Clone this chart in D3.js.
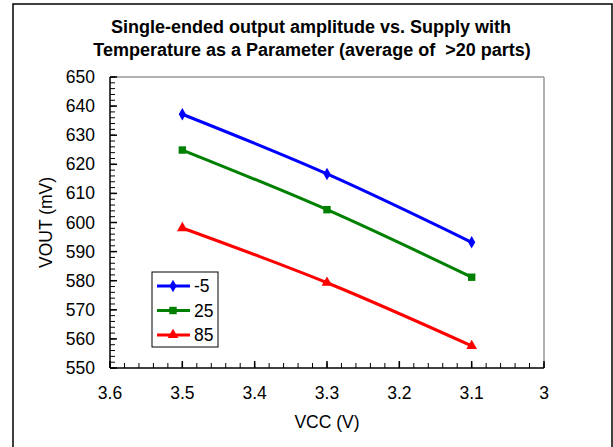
<!DOCTYPE html>
<html>
<head>
<meta charset="utf-8">
<script src="https://cdn.jsdelivr.net/npm/d3@7"></script>
<style>
  body { margin: 0; background: #fff; }
  text { font-family: "Liberation Sans", Arial, sans-serif; fill: #000; white-space: pre; }
</style>
</head>
<body>
<div id="chart"></div>
<script>
// data
const vcc = [3.5, 3.3, 3.1];
const tempNames = ["-5", "25", "85"];
const vMinus5 = [637.2, 616.7, 593.2];
const v25 = [624.9, 604.4, 581.2];
const v85 = [598.1, 579.3, 557.6];
const xTicks = [3.6, 3.5, 3.4, 3.3, 3.2, 3.1, 3];
const yTicks = [550, 560, 570, 580, 590, 600, 610, 620, 630, 640, 650];

const colors = ["#0000ff", "#008000", "#ff0000"];
const symbols = [d3.symbolDiamond, d3.symbolSquare, d3.symbolTriangle];
const symSize = [45, 55, 50];

const series = [vMinus5, v25, v85].map((vals, i) => ({
    name: tempNames[i],
    color: colors[i],
    sym: symbols[i],
    size: symSize[i],
    pts: vals.map((v, j) => ({x: vcc[j], y: v}))
}));

const W = 613, H = 447;
const margin = {top: 77, right: 69, bottom: 79, left: 110};
const width = W - margin.left - margin.right;
const height = H - margin.top - margin.bottom;
const fs = "17.5px";

const svg = d3.select("#chart").append("svg")
    .attr("width", W).attr("height", H);

// outer frame
svg.append("rect")
    .attr("x", 13).attr("y", 4)
    .attr("width", 599).attr("height", 460)
    .attr("fill", "none")
    .attr("stroke", "#000").attr("stroke-width", 1.5);

// title
svg.append("text").attr("x", 311).attr("y", 33)
    .attr("text-anchor", "middle").style("font-size", "18px").style("font-weight", "bold")
    .text("Single-ended output amplitude vs. Supply with");
svg.append("text").attr("x", 312).attr("y", 56)
    .attr("text-anchor", "middle").style("font-size", "18px").style("font-weight", "bold")
    .text("Temperature as a Parameter (average of  >20 parts)");

const g = svg.append("g")
    .attr("transform", "translate(" + margin.left + "," + margin.top + ")");

// scales (x reversed)
const x = d3.scaleLinear().domain([3.6, 3]).range([0, width]);
const y = d3.scaleLinear().domain([550, 650]).range([height, 0]);

// plot border top/right
g.append("line").attr("x1", 0).attr("x2", width).attr("y1", 0).attr("y2", 0)
    .attr("stroke", "#999").attr("stroke-width", 1.5);
g.append("line").attr("x1", width).attr("x2", width).attr("y1", 0).attr("y2", height)
    .attr("stroke", "#999").attr("stroke-width", 1.5);

// minor ticks
const xMinor = d3.range(0, 31).map(i => 3.6 - i * 0.02);
const yMinor = d3.range(0, 51).map(i => 550 + i * 2);

g.append("g").selectAll("line").data(xMinor).enter().append("line")
    .attr("x1", d => x(d)).attr("x2", d => x(d))
    .attr("y1", height).attr("y2", height - 5)
    .attr("stroke", "#000").attr("stroke-width", 1);
g.append("g").selectAll("line").data(xTicks).enter().append("line")
    .attr("x1", d => x(d)).attr("x2", d => x(d))
    .attr("y1", height).attr("y2", height - 7)
    .attr("stroke", "#000").attr("stroke-width", 1.5);

g.append("g").selectAll("line").data(yMinor).enter().append("line")
    .attr("x1", 0).attr("x2", 5)
    .attr("y1", d => y(d)).attr("y2", d => y(d))
    .attr("stroke", "#000").attr("stroke-width", 1);
g.append("g").selectAll("line").data(yTicks).enter().append("line")
    .attr("x1", 0).attr("x2", 7)
    .attr("y1", d => y(d)).attr("y2", d => y(d))
    .attr("stroke", "#000").attr("stroke-width", 1.5);

// axes lines
g.append("line").attr("x1", 0).attr("x2", 0).attr("y1", 0).attr("y2", height)
    .attr("stroke", "#000").attr("stroke-width", 1.5);
g.append("line").attr("x1", 0).attr("x2", width).attr("y1", height).attr("y2", height)
    .attr("stroke", "#000").attr("stroke-width", 1.5);

// tick labels
g.append("g").selectAll("text").data(xTicks).enter().append("text")
    .attr("x", d => x(d)).attr("y", height + 31)
    .attr("text-anchor", "middle").style("font-size", fs)
    .text(d => d3.format("")(d));
g.append("g").selectAll("text").data(yTicks).enter().append("text")
    .attr("x", -15).attr("y", d => y(d) + 6)
    .attr("text-anchor", "end").style("font-size", fs)
    .text(d => d);

// axis titles
svg.append("text").attr("x", 327).attr("y", 428)
    .attr("text-anchor", "middle").style("font-size", fs)
    .text("VCC (V)");
svg.append("text")
    .attr("transform", "translate(52," + (margin.top + height / 2) + ") rotate(-90)")
    .attr("text-anchor", "middle").style("font-size", fs)
    .text("VOUT (mV)");

// lines
const line = d3.line()
    .x(d => x(d.x)).y(d => y(d.y))
    .curve(d3.curveCatmullRom.alpha(0.5));

series.forEach(s => {
    g.append("path")
        .attr("d", line(s.pts))
        .attr("fill", "none")
        .attr("stroke", s.color)
        .attr("stroke-width", 3);
    g.append("g").selectAll("path").data(s.pts).enter().append("path")
        .attr("transform", d => "translate(" + x(d.x) + "," + y(d.y) + ")")
        .attr("d", d3.symbol().type(s.sym).size(s.size))
        .attr("fill", s.color);
});

// legend
const lg = svg.append("g").attr("transform", "translate(152,272)");
lg.append("rect").attr("width", 66).attr("height", 75)
    .attr("fill", "#fff").attr("stroke", "#000").attr("stroke-width", 1);
series.forEach((s, i) => {
    const yy = 14 + i * 24.5;
    lg.append("line").attr("x1", 5).attr("x2", 38).attr("y1", yy).attr("y2", yy)
        .attr("stroke", s.color).attr("stroke-width", 3);
    lg.append("path")
        .attr("transform", "translate(21," + yy + ")")
        .attr("d", d3.symbol().type(s.sym).size(s.size))
        .attr("fill", s.color);
    lg.append("text").attr("x", 42).attr("y", yy + 6)
        .style("font-size", fs).text(s.name);
});
</script>
</body>
</html>
